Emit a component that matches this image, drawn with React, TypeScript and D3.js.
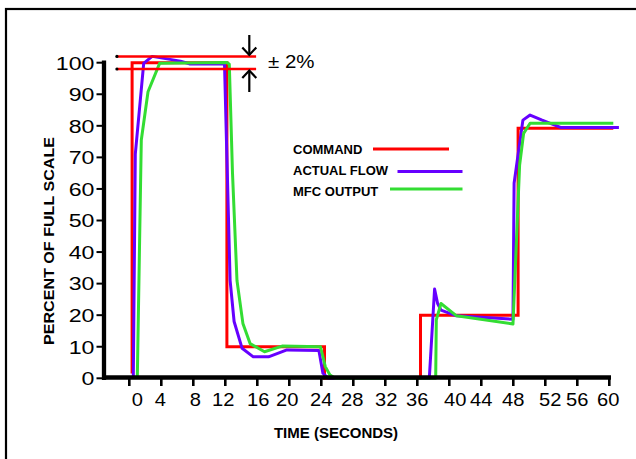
import React from "react";
import * as d3 from "d3";

// ---- data ----
const TIME_TICKS = [0, 4, 8, 12, 16, 20, 24, 28, 32, 36, 40, 44, 48, 52, 56, 60];
const PCT_TICKS = [0, 10, 20, 30, 40, 50, 60, 70, 80, 90, 100];

const COMMAND_T = [0.35, 0.35, 12.2, 12.2, 24.4, 24.4, 36.4, 36.4, 48.6, 48.6, 60.5];
const COMMAND_V = [1.5, 100, 100, 10, 10, 0, 0, 20, 20, 79.2, 79.2];

const FLOW_T = [0.5, 0.75, 1.8, 2.85, 6.4, 7.6, 11.9, 12.2, 12.6, 13.1, 14.1, 15.5, 17.4, 19.7, 23.7, 24.2, 24.9, 37.5, 38.16, 38.54, 38.96, 40.9, 47.96, 48.1, 49.2, 50.1, 51.6, 53.9, 61.2];
const FLOW_V = [0, 71, 99.8, 102, 100.5, 99.6, 99.6, 70, 31, 18, 9.5, 6.8, 6.8, 9, 8.8, 1.6, 0, 0, 28.3, 23.7, 21.6, 19.8, 18.7, 61.8, 81.8, 83.4, 81.8, 79.5, 79.5];

const MFC_T = [1.0, 1.5, 2.34, 3.79, 12.2, 12.5, 12.9, 13.46, 14.2, 15.1, 16.9, 19.1, 23.9, 24.5, 25.1, 25.75, 38.3, 38.375, 38.96, 40.9, 47.96, 48.79, 49.29, 50.1, 60.5];
const MFC_V = [0, 75.5, 90.8, 99.8, 100.1, 99.5, 65, 31, 17.4, 11, 8.4, 10.2, 10, 3.7, 1, 0, 0, 18.5, 23.7, 19.8, 17.2, 67.6, 77.6, 80.8, 80.8];

const TOL_UPPER = 102;
const TOL_LOWER = 98;
const TOL_LABEL = "± 2%";

const SERIES_NAMES = ["COMMAND", "ACTUAL FLOW", "MFC OUTPUT"];
const X_TITLE = "TIME (SECONDS)";
const Y_TITLE = "PERCENT OF FULL SCALE";

// ---- styles ----
const COLORS = ["#ff0000", "#6600ff", "#33dd33"];
const LABEL_NUDGE = [8, -1, 2, -2, 1, -2, 0, -1, 1, 0, 6, 0, 0, 5, 0, -1];

const zip = (t: number[], v: number[]) => t.map((d, i) => [d, v[i]] as [number, number]);

export default function App() {
  const x = d3.scaleLinear().domain([0, 60]).range([129.3, 609.3]);
  const y = d3.scaleLinear().domain([0, 100]).range([378.3, 62.7]);
  const line = d3
    .line<[number, number]>()
    .x((d) => x(d[0]))
    .y((d) => y(d[1]));

  const series = [zip(COMMAND_T, COMMAND_V), zip(FLOW_T, FLOW_V), zip(MFC_T, MFC_V)];

  const font = "'Liberation Sans', Arial, sans-serif";
  const axisY = 377.5;
  const axisX = 104;
  const tolX0 = x(-1.55);
  const tolX1 = x(15.85);
  const arrowX = x(15);

  const legendRows = [
    { y: 149, tx: 293, base: 154, x0: 373, x1: 449 },
    { y: 171.5, tx: 293, base: 175, x0: 397.5, x1: 462.5 },
    { y: 189, tx: 293, base: 196, x0: 390, x1: 462.5 },
  ];

  return (
    <svg
      width={636}
      height={459}
      style={{ position: "absolute", left: 0, top: 0, background: "#fff" }}
      fontFamily={font}
    >
      <rect x={0} y={0} width={636} height={459} fill="#fff" />
      {/* frame */}
      <rect x={6} y={9} width={700} height={500} fill="none" stroke="#000" strokeWidth={2.2} />

      {/* series */}
      <path d={line(series[0]) || ""} fill="none" stroke={COLORS[0]} strokeWidth={3} strokeLinejoin="miter" />
      <path d={line(series[1]) || ""} fill="none" stroke={COLORS[1]} strokeWidth={3} strokeLinejoin="round" />
      <path d={line(series[2]) || ""} fill="none" stroke={COLORS[2]} strokeWidth={3} strokeLinejoin="round" />

      {/* tolerance band */}
      {[TOL_UPPER, TOL_LOWER].map((v) => (
        <g key={v}>
          <line x1={tolX0} x2={tolX1} y1={y(v)} y2={y(v)} stroke={COLORS[0]} strokeWidth={2.5} />
          <circle cx={tolX0} cy={y(v)} r={1.6} fill="#000" />
        </g>
      ))}
      {/* arrows */}
      <g stroke="#000" strokeWidth={2.2} fill="none">
        <line x1={arrowX} x2={arrowX} y1={35} y2={y(TOL_UPPER) - 1.5} />
        <polyline points={`${arrowX - 7},${y(TOL_UPPER) - 9} ${arrowX},${y(TOL_UPPER) - 1.5} ${arrowX + 7},${y(TOL_UPPER) - 9}`} />
        <line x1={arrowX} x2={arrowX} y1={y(TOL_LOWER) + 1.5} y2={92} />
        <polyline points={`${arrowX - 7},${y(TOL_LOWER) + 9} ${arrowX},${y(TOL_LOWER) + 1.5} ${arrowX + 7},${y(TOL_LOWER) + 9}`} />
      </g>
      <text x={0} y={0} fontSize={18.6} transform={`translate(268,68.3) scale(1.1,1)`} fill="#000">
        {TOL_LABEL}
      </text>

      {/* axes */}
      <line x1={axisX} x2={axisX} y1={60.5} y2={380} stroke="#000" strokeWidth={4.3} />
      <line x1={axisX - 2} x2={611} y1={axisY} y2={axisY} stroke="#000" strokeWidth={4.3} />
      {PCT_TICKS.map((v) => (
        <g key={v}>
          <line x1={96.5} x2={axisX} y1={y(v)} y2={y(v)} stroke="#000" strokeWidth={2} />
          <text
            x={0}
            y={0}
            fontSize={19}
            textAnchor="end"
            transform={`translate(94.5,${y(v) + 6.8}) scale(1.22,1)`}
            fill="#000"
          >
            {v}
          </text>
        </g>
      ))}
      {TIME_TICKS.map((t, i) => (
        <g key={t}>
          <line x1={x(t)} x2={x(t)} y1={axisY} y2={386} stroke="#000" strokeWidth={2.6} />
          <text
            x={0}
            y={0}
            fontSize={17.5}
            textAnchor="middle"
            transform={`translate(${x(t) + LABEL_NUDGE[i]},406) scale(1.15,1)`}
            fill="#000"
          >
            {t}
          </text>
        </g>
      ))}

      {/* titles */}
      <text x={336} y={437.5} fontSize={15} fontWeight="bold" textAnchor="middle" fill="#000">
        {X_TITLE}
      </text>
      <text
        x={0}
        y={0}
        fontSize={15}
        fontWeight="bold"
        textAnchor="middle"
        transform="translate(53.5,241) rotate(-90)"
        textLength={208}
        lengthAdjust="spacingAndGlyphs"
        fill="#000"
      >
        {Y_TITLE}
      </text>

      {/* legend */}
      {legendRows.map((r, i) => (
        <g key={i}>
          <text x={r.tx} y={r.base} fontSize={13} fontWeight="bold" fill="#000">
            {SERIES_NAMES[i]}
          </text>
          <line x1={r.x0} x2={r.x1} y1={r.y} y2={r.y} stroke={COLORS[i]} strokeWidth={3} />
        </g>
      ))}
    </svg>
  );
}
